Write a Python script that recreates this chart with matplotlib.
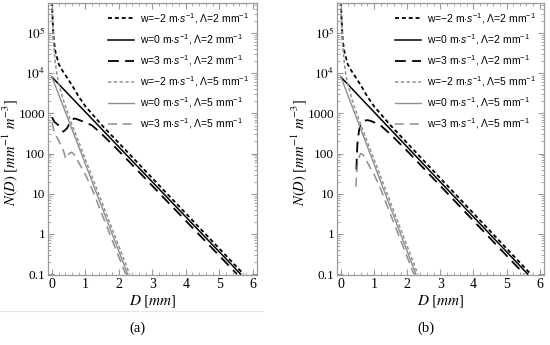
import numpy as np
import matplotlib.pyplot as plt
from matplotlib.ticker import LogLocator, NullFormatter, MultipleLocator

plt.rcParams['mathtext.fontset'] = 'custom'
plt.rcParams['mathtext.rm'] = 'Liberation Sans'
plt.rcParams['mathtext.it'] = 'Liberation Sans:italic'

# values (D in mm, N in mm^-1 m^-3)
# shared by both panels
d_wm2_l2 = [0.0, 0.02, 0.05, 0.1, 0.2, 0.3, 0.4, 0.6, 0.8, 1.0, 1.5, 5.73]
n_wm2_l2 = [6e5, 2e5, 7e4, 3.5e4, 1.7e4, 1.2e4, 9000, 5000, 2600, 1500, 500, 0.1]
d_w0_l2 = [0.0, 5.64]
n_w0_l2 = [8000, 0.1]
d_wm2_l5 = [0.0, 0.02, 0.05, 0.1, 0.15, 0.2, 0.3, 0.4, 0.6, 2.32]
n_wm2_l5 = [6e5, 1.5e5, 5e4, 1.8e4, 9000, 5500, 2800, 1500, 520, 0.1]
d_w0_l5 = [0.0, 2.26]
n_w0_l5 = [8000, 0.1]

# panel (a), w=3
d_a_w3_l2 = [0.0, 0.07, 0.2, 0.34, 0.45, 0.52, 0.6, 0.68, 0.8, 1.0, 1.2, 1.5, 2.0, 5.53]
n_a_w3_l2 = [800, 620, 500, 350, 430, 560, 700, 750, 690, 600, 500, 300, 116, 0.1]
d_a_w3_l5 = [0.0, 0.05, 0.1, 0.2, 0.34, 0.41, 0.45, 0.5, 0.58, 0.66, 0.75, 0.85, 1.0, 1.2, 2.2]
n_a_w3_l5 = [600, 390, 300, 210, 120, 75, 80, 98, 108, 95, 70, 50, 30, 13, 0.1]

# panel (b), w=3
d_b_w3_l2 = [0.465, 0.48, 0.5, 0.55, 0.6, 0.7, 0.8, 0.9, 1.0, 1.2, 1.5, 2.0, 5.53]
n_b_w3_l2 = [40, 90, 200, 400, 560, 660, 680, 650, 600, 500, 300, 116, 0.1]
d_b_w3_l5 = [0.455, 0.47, 0.5, 0.55, 0.6, 0.66, 0.75, 0.85, 1.0, 1.2, 2.2]
n_b_w3_l5 = [15, 30, 55, 85, 100, 95, 72, 50, 30, 13, 0.1]

labels = [r"w=−2 m$\cdot\mathit{s}^{-1}$, Λ=2 mm$^{-1}$",
          r"w=0 m$\cdot\mathit{s}^{-1}$, Λ=2 mm$^{-1}$",
          r"w=3 m$\cdot\mathit{s}^{-1}$, Λ=2 mm$^{-1}$",
          r"w=−2 m$\cdot\mathit{s}^{-1}$, Λ=5 mm$^{-1}$",
          r"w=0 m$\cdot\mathit{s}^{-1}$, Λ=5 mm$^{-1}$",
          r"w=3 m$\cdot\mathit{s}^{-1}$, Λ=5 mm$^{-1}$"]

gray = '#8f8f8f'
short = (0, (2.2, 1.6))
long_ = (0, (6, 3.5))
frame = '#9a9a9a'

fig = plt.figure(figsize=(5.5, 3.45), dpi=100)
ax_a = fig.add_axes([48 / 550, 70 / 345, 209 / 550, 272 / 345])
ax_b = fig.add_axes([337 / 550, 70 / 345, 207 / 550, 272 / 345])

panels = [(ax_a, d_a_w3_l2, n_a_w3_l2, d_a_w3_l5, n_a_w3_l5, '(a)'),
          (ax_b, d_b_w3_l2, n_b_w3_l2, d_b_w3_l5, n_b_w3_l5, '(b)')]

for ax, d32, n32, d35, n35, cap in panels:
    ax.plot(d_wm2_l2, n_wm2_l2, color='black', lw=1.3, ls=short, label=labels[0])
    ax.plot(d_w0_l2, n_w0_l2, color='black', lw=1.1, label=labels[1])
    ax.plot(d32, n32, color='black', lw=1.3, ls=long_, label=labels[2])
    ax.plot(d_wm2_l5, n_wm2_l5, color=gray, lw=1.1, ls=short, label=labels[3])
    ax.plot(d_w0_l5, n_w0_l5, color=gray, lw=1.0, label=labels[4])
    ax.plot(d35, n35, color=gray, lw=1.1, ls=long_, label=labels[5])

    ax.set_yscale('log')
    ax.set_xlim(-0.12, 6.13)
    ax.set_ylim(0.095, 5.6e5)
    ax.set_xticks(range(7))
    ax.xaxis.set_minor_locator(MultipleLocator(0.2))
    ax.set_yticks([0.1, 1, 10, 100, 1000, 1e4, 1e5])
    ax.set_yticklabels(['0.1', '1', '10', '100', '1000', r'$10^4$', r'$10^5$'])
    ax.yaxis.set_minor_locator(LogLocator(base=10, subs=np.arange(2, 10)))
    ax.yaxis.set_minor_formatter(NullFormatter())
    for lab in ax.get_xticklabels():
        lab.set_fontfamily('Liberation Serif')
        lab.set_fontsize(10)
    for lab in ax.get_yticklabels():
        lab.set_fontfamily('Liberation Serif')
        lab.set_math_fontfamily('stix')
        lab.set_fontsize(9.5)
    ax.tick_params(which='both', direction='in', top=True, right=True,
                   color=frame, pad=2)
    ax.tick_params(which='major', length=4, width=0.8)
    ax.tick_params(which='minor', length=2, width=0.6)
    for s in ax.spines.values():
        s.set_color(frame)
        s.set_linewidth(0.9)

    ax.set_xlabel(r'$D\ [mm]$', fontsize=11, math_fontfamily='stix', labelpad=2)
    ax.set_ylabel(r'$N(D)\ [mm^{-1}\ m^{-3}]$', fontsize=10.5,
                  math_fontfamily='stix')
    ax.yaxis.set_label_coords(-0.135, 0.45)

    ax.legend(loc='upper right', frameon=False,
              handlelength=2.5, handletextpad=0.6, labelspacing=0.6,
              borderaxespad=0.35, prop={'family': 'Liberation Sans', 'size': 7.5})

    bb = ax.get_position()
    fig.text(bb.x0 + bb.width * 0.43, 17 / 345, cap, ha='center', va='center',
             fontsize=10.5, family='Liberation Serif')

fig.add_artist(plt.Line2D([0, 263 / 550], [34 / 345, 34 / 345], color='#e6e6e6', lw=0.8))

fig.savefig('out.png', dpi=100)
